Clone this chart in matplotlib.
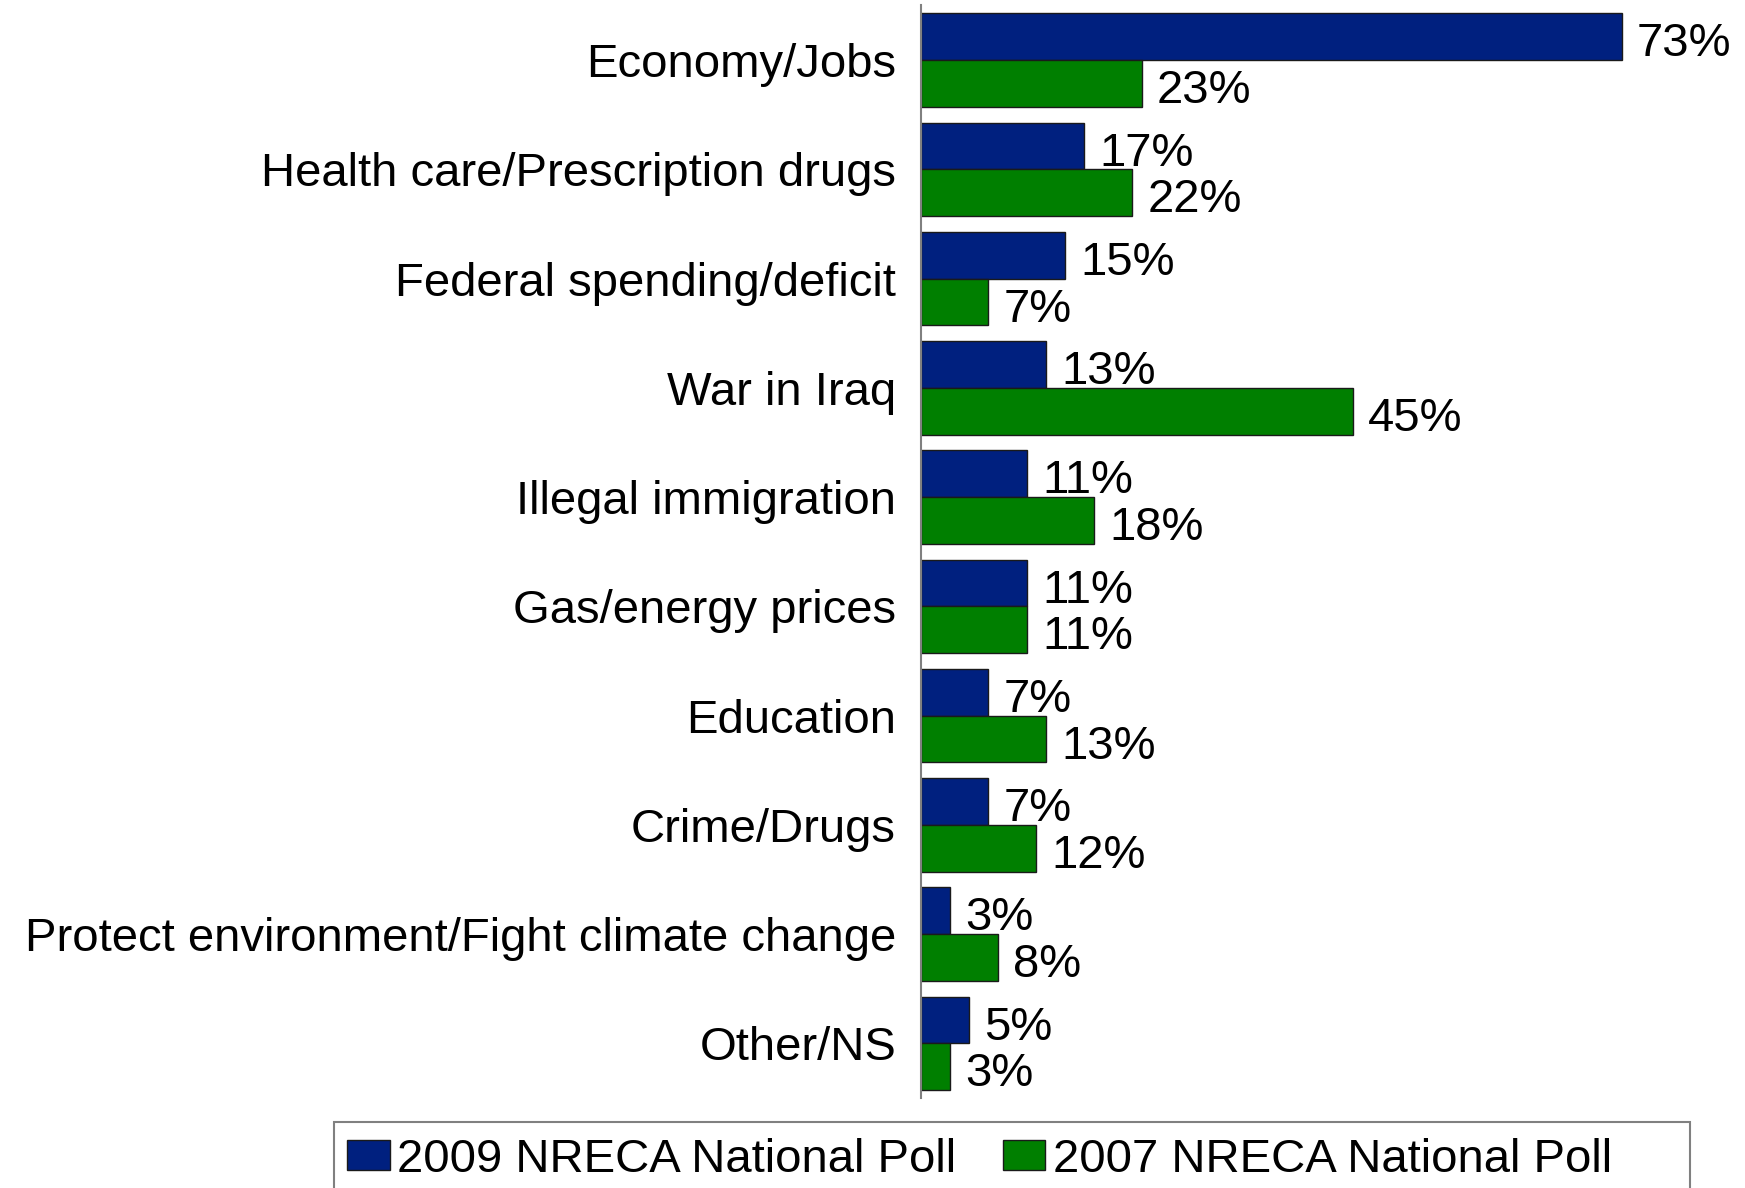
import matplotlib
matplotlib.use("Agg")
import matplotlib.pyplot as plt
from matplotlib.patches import Rectangle
import numpy as np

plt.rcParams['font.family'] = ['Liberation Sans', 'DejaVu Sans']

categories = ['Economy/Jobs', 'Health care/Prescription drugs', 'Federal spending/deficit',
              'War in Iraq', 'Illegal immigration', 'Gas/energy prices', 'Education',
              'Crime/Drugs', 'Protect environment/Fight climate change', 'Other/NS']
poll_2009 = [73, 17, 15, 13, 11, 11, 7, 7, 3, 5]
poll_2007 = [23, 22, 7, 45, 18, 11, 13, 12, 8, 3]
series_names = ['2009 NRECA National Poll', '2007 NRECA National Poll']

blue = '#00207F'
green = '#007F00'

W, H = 1745, 1188
fig = plt.figure(figsize=(W / 100, H / 100), dpi=100)
ax = fig.add_axes([0.5278, 0.0758, 0.44, 0.9196])

y = np.arange(len(categories))
h = 0.428
b1 = ax.barh(y - h / 2, poll_2009, height=h, color=blue, edgecolor='#1a1a1a', linewidth=1)
b2 = ax.barh(y + h / 2, poll_2007, height=h, color=green, edgecolor='#1a1a1a', linewidth=1)

for bars, vals in ((b1, poll_2009), (b2, poll_2007)):
    for bar, v in zip(bars, vals):
        ax.text(bar.get_width() + 1.6, bar.get_y() + bar.get_height() / 2 + 0.07, f'{v}%',
                va='center', ha='left', fontsize=34)

ax.set_yticks(y)
ax.set_yticklabels(categories, fontsize=34)
ax.set_ylim(len(categories) - 0.5, -0.5)
ax.set_xlim(0, 80)
ax.tick_params(axis='y', length=0, pad=18)
ax.set_xticks([])
for s in ('top', 'right', 'bottom'):
    ax.spines[s].set_visible(False)
ax.spines['left'].set_color('#808080')
ax.spines['left'].set_linewidth(1.5)

# legend box runs off the bottom edge like the original
fig.patches.append(Rectangle((334 / W, -0.02), (1690 - 334) / W, (H - 1122) / H + 0.02,
                             transform=fig.transFigure, facecolor='none',
                             edgecolor='#808080', linewidth=1.5))
fig.legend([b1, b2], series_names, loc='center left',
           bbox_to_anchor=(347 / W, 1 - 1160 / H),
           ncol=2, fontsize=34, frameon=False,
           handlelength=0.9, handleheight=0.6, handletextpad=0.15, columnspacing=1.0,
           borderpad=0, borderaxespad=0)

fig.savefig('out.png', dpi=100)
